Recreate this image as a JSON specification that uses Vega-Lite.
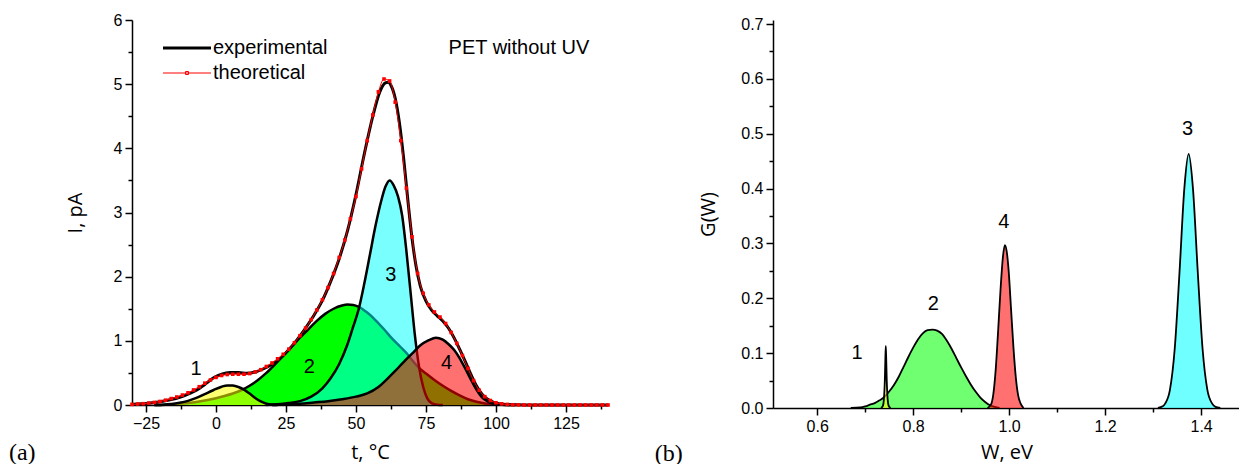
{
"$schema": "https://vega.github.io/schema/vega-lite/v6.json",
"padding": {"left": 8, "top": 12, "right": 0, "bottom": 0},
"spacing": 40,
"config": {
  "view": {"stroke": null},
  "axis": {"domainColor": "black", "domainWidth": 1.5, "tickColor": "black", "tickWidth": 1.5, "labelColor": "black", "labelFont": "Liberation Sans", "labelFontSize": 16, "labelPadding": 3, "titleFont": "Open Sans", "titleFontSize": 20, "titleFontWeight": "normal", "titleColor": "black", "grid": false, "labelOverlap": false, "labelFlush": false},
  "text": {"font": "Liberation Sans", "fontSize": 20, "color": "black"}
},
"datasets": {
  "peaksA": [
    {"peak":1,"t":-22,"I":0},{"peak":1,"t":-19,"I":0.005},{"peak":1,"t":-16,"I":0.015},{"peak":1,"t":-13,"I":0.035},{"peak":1,"t":-10,"I":0.065},{"peak":1,"t":-7,"I":0.11},{"peak":1,"t":-4,"I":0.17},{"peak":1,"t":-1,"I":0.23},{"peak":1,"t":2,"I":0.285},{"peak":1,"t":4,"I":0.305},{"peak":1,"t":6,"I":0.302},{"peak":1,"t":8,"I":0.28},{"peak":1,"t":10,"I":0.24},{"peak":1,"t":12,"I":0.178},{"peak":1,"t":14,"I":0.11},{"peak":1,"t":16,"I":0.055},{"peak":1,"t":18,"I":0.02},{"peak":1,"t":20,"I":0.005},{"peak":1,"t":22,"I":0},
    {"peak":2,"t":-22,"I":0},{"peak":2,"t":-18,"I":0.005},{"peak":2,"t":-15,"I":0.012},{"peak":2,"t":-12,"I":0.022},{"peak":2,"t":-9,"I":0.036},{"peak":2,"t":-6,"I":0.055},{"peak":2,"t":-3,"I":0.078},{"peak":2,"t":0,"I":0.105},{"peak":2,"t":3,"I":0.14},{"peak":2,"t":6,"I":0.18},{"peak":2,"t":9,"I":0.23},{"peak":2,"t":12,"I":0.3},{"peak":2,"t":15,"I":0.39},{"peak":2,"t":18,"I":0.5},{"peak":2,"t":21,"I":0.63},{"peak":2,"t":24,"I":0.77},{"peak":2,"t":27,"I":0.91},{"peak":2,"t":30,"I":1.05},{"peak":2,"t":33,"I":1.18},{"peak":2,"t":36,"I":1.31},{"peak":2,"t":39,"I":1.42},{"peak":2,"t":42,"I":1.5},{"peak":2,"t":45,"I":1.55},{"peak":2,"t":47,"I":1.565},{"peak":2,"t":49,"I":1.56},{"peak":2,"t":51,"I":1.53},{"peak":2,"t":54,"I":1.44},{"peak":2,"t":57,"I":1.32},{"peak":2,"t":60,"I":1.18},{"peak":2,"t":63,"I":1.03},{"peak":2,"t":66,"I":0.9},{"peak":2,"t":68.6,"I":0.78},{"peak":2,"t":70,"I":0.7},{"peak":2,"t":72,"I":0.6},{"peak":2,"t":75,"I":0.49},{"peak":2,"t":78,"I":0.39},{"peak":2,"t":81,"I":0.3},{"peak":2,"t":84,"I":0.22},{"peak":2,"t":87,"I":0.15},{"peak":2,"t":90,"I":0.09},{"peak":2,"t":93,"I":0.05},{"peak":2,"t":96,"I":0.025},{"peak":2,"t":99,"I":0.01},{"peak":2,"t":103,"I":0.003},{"peak":2,"t":107,"I":0},
    {"peak":3,"t":18,"I":0},{"peak":3,"t":22,"I":0.01},{"peak":3,"t":26,"I":0.03},{"peak":3,"t":30,"I":0.06},{"peak":3,"t":34,"I":0.13},{"peak":3,"t":38,"I":0.26},{"peak":3,"t":41,"I":0.42},{"peak":3,"t":44,"I":0.64},{"peak":3,"t":47,"I":0.95},{"peak":3,"t":49,"I":1.22},{"peak":3,"t":51,"I":1.5},{"peak":3,"t":53,"I":1.9},{"peak":3,"t":55,"I":2.35},{"peak":3,"t":57,"I":2.8},{"peak":3,"t":59,"I":3.18},{"peak":3,"t":60.5,"I":3.4},{"peak":3,"t":62,"I":3.5},{"peak":3,"t":63.5,"I":3.42},{"peak":3,"t":65,"I":3.25},{"peak":3,"t":66.5,"I":2.95},{"peak":3,"t":68,"I":2.4},{"peak":3,"t":69.5,"I":1.75},{"peak":3,"t":71,"I":1.1},{"peak":3,"t":72.5,"I":0.6},{"peak":3,"t":74,"I":0.28},{"peak":3,"t":75.5,"I":0.1},{"peak":3,"t":77,"I":0.03},{"peak":3,"t":79,"I":0.005},{"peak":3,"t":81,"I":0},
    {"peak":4,"t":20,"I":0},{"peak":4,"t":25,"I":0.01},{"peak":4,"t":30,"I":0.02},{"peak":4,"t":35,"I":0.04},{"peak":4,"t":40,"I":0.06},{"peak":4,"t":45,"I":0.09},{"peak":4,"t":50,"I":0.13},{"peak":4,"t":54,"I":0.18},{"peak":4,"t":58,"I":0.28},{"peak":4,"t":61,"I":0.4},{"peak":4,"t":64,"I":0.53},{"peak":4,"t":67,"I":0.67},{"peak":4,"t":70,"I":0.8},{"peak":4,"t":73,"I":0.93},{"peak":4,"t":76,"I":1.01},{"peak":4,"t":78.5,"I":1.05},{"peak":4,"t":81,"I":1.02},{"peak":4,"t":83,"I":0.95},{"peak":4,"t":85,"I":0.86},{"peak":4,"t":87,"I":0.73},{"peak":4,"t":89,"I":0.57},{"peak":4,"t":91,"I":0.4},{"peak":4,"t":93,"I":0.24},{"peak":4,"t":95,"I":0.12},{"peak":4,"t":97,"I":0.055},{"peak":4,"t":99,"I":0.02},{"peak":4,"t":102,"I":0.005},{"peak":4,"t":105,"I":0}
  ],
  "curvesA": [
    {"series":"experimental","t":-30,"I":0.01},{"series":"experimental","t":-28,"I":0.015},{"series":"experimental","t":-25,"I":0.025},{"series":"experimental","t":-22,"I":0.04},{"series":"experimental","t":-19,"I":0.06},{"series":"experimental","t":-16,"I":0.085},{"series":"experimental","t":-13,"I":0.12},{"series":"experimental","t":-10,"I":0.17},{"series":"experimental","t":-7,"I":0.23},{"series":"experimental","t":-4,"I":0.32},{"series":"experimental","t":-1,"I":0.42},{"series":"experimental","t":2,"I":0.48},{"series":"experimental","t":5,"I":0.505},{"series":"experimental","t":8,"I":0.505},{"series":"experimental","t":11,"I":0.495},{"series":"experimental","t":14,"I":0.515},{"series":"experimental","t":17,"I":0.565},{"series":"experimental","t":20,"I":0.635},{"series":"experimental","t":23,"I":0.73},{"series":"experimental","t":26,"I":0.86},{"series":"experimental","t":29,"I":1.02},{"series":"experimental","t":32,"I":1.2},{"series":"experimental","t":35,"I":1.4},{"series":"experimental","t":38,"I":1.63},{"series":"experimental","t":41,"I":1.93},{"series":"experimental","t":44,"I":2.28},{"series":"experimental","t":47,"I":2.72},{"series":"experimental","t":50,"I":3.28},{"series":"experimental","t":53,"I":3.92},{"series":"experimental","t":56,"I":4.5},{"series":"experimental","t":58.5,"I":4.88},{"series":"experimental","t":60.5,"I":5.02},{"series":"experimental","t":61.5,"I":5.03},{"series":"experimental","t":62.5,"I":4.98},{"series":"experimental","t":64,"I":4.78},{"series":"experimental","t":65.5,"I":4.4},{"series":"experimental","t":67,"I":3.85},{"series":"experimental","t":68.5,"I":3.2},{"series":"experimental","t":70,"I":2.6},{"series":"experimental","t":71.5,"I":2.15},{"series":"experimental","t":73,"I":1.85},{"series":"experimental","t":75,"I":1.62},{"series":"experimental","t":77,"I":1.48},{"series":"experimental","t":79,"I":1.39},{"series":"experimental","t":81,"I":1.31},{"series":"experimental","t":83,"I":1.2},{"series":"experimental","t":85,"I":1.05},{"series":"experimental","t":87,"I":0.87},{"series":"experimental","t":89,"I":0.68},{"series":"experimental","t":91,"I":0.48},{"series":"experimental","t":93,"I":0.3},{"series":"experimental","t":95,"I":0.17},{"series":"experimental","t":97,"I":0.09},{"series":"experimental","t":99,"I":0.045},{"series":"experimental","t":101,"I":0.02},{"series":"experimental","t":104,"I":0.008},{"series":"experimental","t":108,"I":0.002},{"series":"experimental","t":115,"I":0},{"series":"experimental","t":140,"I":0},
    {"series":"theoretical","t":-30,"I":0.01},{"series":"theoretical","t":-28,"I":0.015},{"series":"theoretical","t":-26,"I":0.02},{"series":"theoretical","t":-24,"I":0.03},{"series":"theoretical","t":-22,"I":0.04},{"series":"theoretical","t":-20,"I":0.055},{"series":"theoretical","t":-18,"I":0.075},{"series":"theoretical","t":-16,"I":0.1},{"series":"theoretical","t":-14,"I":0.125},{"series":"theoretical","t":-12,"I":0.155},{"series":"theoretical","t":-10,"I":0.19},{"series":"theoretical","t":-8,"I":0.235},{"series":"theoretical","t":-6,"I":0.285},{"series":"theoretical","t":-4,"I":0.34},{"series":"theoretical","t":-2,"I":0.39},{"series":"theoretical","t":0,"I":0.43},{"series":"theoretical","t":2,"I":0.46},{"series":"theoretical","t":4,"I":0.475},{"series":"theoretical","t":6,"I":0.48},{"series":"theoretical","t":8,"I":0.48},{"series":"theoretical","t":10,"I":0.48},{"series":"theoretical","t":12,"I":0.49},{"series":"theoretical","t":14,"I":0.515},{"series":"theoretical","t":16,"I":0.55},{"series":"theoretical","t":18,"I":0.6},{"series":"theoretical","t":20,"I":0.655},{"series":"theoretical","t":22,"I":0.72},{"series":"theoretical","t":24,"I":0.79},{"series":"theoretical","t":26,"I":0.87},{"series":"theoretical","t":28,"I":0.97},{"series":"theoretical","t":30,"I":1.08},{"series":"theoretical","t":32,"I":1.2},{"series":"theoretical","t":34,"I":1.33},{"series":"theoretical","t":36,"I":1.48},{"series":"theoretical","t":38,"I":1.64},{"series":"theoretical","t":40,"I":1.83},{"series":"theoretical","t":42,"I":2.05},{"series":"theoretical","t":44,"I":2.3},{"series":"theoretical","t":46,"I":2.57},{"series":"theoretical","t":48,"I":2.9},{"series":"theoretical","t":50,"I":3.25},{"series":"theoretical","t":52,"I":3.68},{"series":"theoretical","t":54,"I":4.12},{"series":"theoretical","t":56,"I":4.52},{"series":"theoretical","t":58,"I":4.88},{"series":"theoretical","t":60,"I":5.08},{"series":"theoretical","t":62,"I":5.05},{"series":"theoretical","t":64,"I":4.72},{"series":"theoretical","t":66,"I":4.12},{"series":"theoretical","t":68,"I":3.38},{"series":"theoretical","t":70,"I":2.62},{"series":"theoretical","t":72,"I":2.05},{"series":"theoretical","t":74,"I":1.74},{"series":"theoretical","t":76,"I":1.56},{"series":"theoretical","t":78,"I":1.45},{"series":"theoretical","t":80,"I":1.37},{"series":"theoretical","t":82,"I":1.27},{"series":"theoretical","t":84,"I":1.13},{"series":"theoretical","t":86,"I":0.96},{"series":"theoretical","t":88,"I":0.77},{"series":"theoretical","t":90,"I":0.57},{"series":"theoretical","t":92,"I":0.38},{"series":"theoretical","t":94,"I":0.23},{"series":"theoretical","t":96,"I":0.13},{"series":"theoretical","t":98,"I":0.07},{"series":"theoretical","t":100,"I":0.035},{"series":"theoretical","t":102,"I":0.018},{"series":"theoretical","t":104,"I":0.009},{"series":"theoretical","t":106,"I":0.004},{"series":"theoretical","t":108,"I":0.002},{"series":"theoretical","t":110,"I":0},{"series":"theoretical","t":112,"I":0},{"series":"theoretical","t":114,"I":0},{"series":"theoretical","t":116,"I":0},{"series":"theoretical","t":118,"I":0},{"series":"theoretical","t":120,"I":0},{"series":"theoretical","t":122,"I":0},{"series":"theoretical","t":124,"I":0},{"series":"theoretical","t":126,"I":0},{"series":"theoretical","t":128,"I":0},{"series":"theoretical","t":130,"I":0},{"series":"theoretical","t":132,"I":0},{"series":"theoretical","t":134,"I":0},{"series":"theoretical","t":136,"I":0},{"series":"theoretical","t":138,"I":0},{"series":"theoretical","t":140,"I":0}
  ],
  "labelsA": [
    {"kind":"peak","t":-7.1,"I":0.565,"text":"1"},{"kind":"peak","t":33.3,"I":0.59,"text":"2"},{"kind":"peak","t":62.4,"I":2.02,"text":"3"},{"kind":"peak","t":82.3,"I":0.66,"text":"4"},
    {"kind":"note","t":108.2,"I":5.57,"text":"PET without UV"},
    {"kind":"panel","t":-69.2,"I":-0.75,"text":"(a)"}
  ],
  "peaksB": [
    {"peak":2,"W":0.67,"G":0},{"peak":2,"W":0.69,"G":0.001},{"peak":2,"W":0.7,"G":0.003},{"peak":2,"W":0.71,"G":0.006},{"peak":2,"W":0.72,"G":0.009},{"peak":2,"W":0.73,"G":0.014},{"peak":2,"W":0.74,"G":0.02},{"peak":2,"W":0.75,"G":0.03},{"peak":2,"W":0.76,"G":0.042},{"peak":2,"W":0.77,"G":0.057},{"peak":2,"W":0.78,"G":0.075},{"peak":2,"W":0.79,"G":0.093},{"peak":2,"W":0.8,"G":0.11},{"peak":2,"W":0.81,"G":0.125},{"peak":2,"W":0.82,"G":0.136},{"peak":2,"W":0.83,"G":0.142},{"peak":2,"W":0.84,"G":0.143},{"peak":2,"W":0.85,"G":0.141},{"peak":2,"W":0.86,"G":0.135},{"peak":2,"W":0.87,"G":0.123},{"peak":2,"W":0.88,"G":0.108},{"peak":2,"W":0.89,"G":0.091},{"peak":2,"W":0.9,"G":0.074},{"peak":2,"W":0.91,"G":0.058},{"peak":2,"W":0.92,"G":0.043},{"peak":2,"W":0.93,"G":0.03},{"peak":2,"W":0.94,"G":0.019},{"peak":2,"W":0.95,"G":0.011},{"peak":2,"W":0.96,"G":0.005},{"peak":2,"W":0.97,"G":0.002},{"peak":2,"W":0.98,"G":0},
    {"peak":1,"W":0.733,"G":0},{"peak":1,"W":0.737,"G":0.004},{"peak":1,"W":0.739,"G":0.015},{"peak":1,"W":0.741,"G":0.05},{"peak":1,"W":0.742,"G":0.085},{"peak":1,"W":0.743,"G":0.113},{"peak":1,"W":0.744,"G":0.085},{"peak":1,"W":0.745,"G":0.05},{"peak":1,"W":0.747,"G":0.015},{"peak":1,"W":0.749,"G":0.004},{"peak":1,"W":0.753,"G":0},
    {"peak":4,"W":0.955,"G":0},{"peak":4,"W":0.962,"G":0.006},{"peak":4,"W":0.967,"G":0.025},{"peak":4,"W":0.972,"G":0.07},{"peak":4,"W":0.977,"G":0.14},{"peak":4,"W":0.982,"G":0.215},{"peak":4,"W":0.987,"G":0.275},{"peak":4,"W":0.991,"G":0.297},{"peak":4,"W":0.995,"G":0.285},{"peak":4,"W":0.999,"G":0.25},{"peak":4,"W":1.004,"G":0.18},{"peak":4,"W":1.009,"G":0.11},{"peak":4,"W":1.014,"G":0.055},{"peak":4,"W":1.019,"G":0.022},{"peak":4,"W":1.024,"G":0.008},{"peak":4,"W":1.03,"G":0},
    {"peak":3,"W":1.31,"G":0},{"peak":3,"W":1.32,"G":0.003},{"peak":3,"W":1.325,"G":0.008},{"peak":3,"W":1.335,"G":0.033},{"peak":3,"W":1.345,"G":0.108},{"peak":3,"W":1.355,"G":0.248},{"peak":3,"W":1.365,"G":0.4},{"peak":3,"W":1.374,"G":0.463},{"peak":3,"W":1.383,"G":0.4},{"peak":3,"W":1.393,"G":0.248},{"peak":3,"W":1.403,"G":0.108},{"peak":3,"W":1.413,"G":0.033},{"peak":3,"W":1.423,"G":0.008},{"peak":3,"W":1.43,"G":0.002},{"peak":3,"W":1.44,"G":0}
  ],
  "labelsB": [
    {"kind":"peak","W":0.683,"G":0.1,"text":"1"},{"kind":"peak","W":0.842,"G":0.19,"text":"2"},{"kind":"peak","W":0.989,"G":0.339,"text":"4"},{"kind":"peak","W":1.372,"G":0.509,"text":"3"},
    {"kind":"panel","W":0.291,"G":-0.083,"text":"(b)"}
  ]
},
"hconcat": [
  {
    "width": 476, "height": 385,
    "encoding": {
      "x": {"field": "t", "type": "quantitative", "scale": {"domain": [-30, 140], "nice": false, "zero": false},
        "axis": {"title": "t, °C", "titlePadding": 11, "values": [-25,-12.5,0,12.5,25,37.5,50,62.5,75,87.5,100,112.5,125,137.5],
          "labelExpr": "datum.value % 25 === 0 ? datum.label : ''",
          "tickSize": {"condition": {"test": "datum.value % 25 === 0", "value": 7}, "value": 4}}},
      "y": {"field": "I", "type": "quantitative", "scale": {"domain": [0, 6], "nice": false},
        "axis": {"title": "I, pA", "titlePadding": 28, "values": [0,0.5,1,1.5,2,2.5,3,3.5,4,4.5,5,5.5,6],
          "labelExpr": "datum.value % 1 === 0 ? format(datum.value, 'd') : ''",
          "tickSize": {"condition": {"test": "datum.value % 1 === 0", "value": 7}, "value": 4}}}
    },
    "layer": [
      {"data": {"name": "peaksA"}, "transform": [{"filter": "datum.peak === 2"}],
       "mark": {"type": "area", "color": "#00ff00", "fillOpacity": 1, "interpolate": "monotone", "line": {"color": "black", "strokeWidth": 2.5, "opacity": 1}}},
      {"data": {"name": "peaksA"}, "transform": [{"filter": "datum.peak === 1"}],
       "mark": {"type": "area", "color": "#ffff00", "fillOpacity": 0.55, "interpolate": "monotone", "line": {"color": "black", "strokeWidth": 2.5, "opacity": 1}}},
      {"data": {"name": "peaksA"}, "transform": [{"filter": "datum.peak === 3"}],
       "mark": {"type": "area", "color": "#00ffff", "fillOpacity": 0.52, "interpolate": "monotone", "line": {"color": "black", "strokeWidth": 2.5, "opacity": 1}}},
      {"data": {"name": "peaksA"}, "transform": [{"filter": "datum.peak === 4"}],
       "mark": {"type": "area", "color": "#ff0000", "fillOpacity": 0.56, "interpolate": "monotone", "line": {"color": "black", "strokeWidth": 2.5, "opacity": 1}}},
      {"data": {"name": "curvesA"},
       "mark": {"type": "line", "interpolate": "monotone"},
       "encoding": {
         "color": {"field": "series", "type": "nominal", "scale": {"domain": ["experimental", "theoretical"], "range": ["black", "#ff0000"]},
           "legend": {"orient": "none", "legendX": 56, "legendY": 18, "title": null, "padding": 0, "labelFont": "Liberation Sans", "labelFontSize": 20, "labelColor": "black", "labelOffset": 5, "rowPadding": 5, "symbolType": "M-35,0H13", "symbolSize": 4,
             "encode": {"symbols": {"update": {"shape": {"signal": "datum.value === 'theoretical' ? 'M-35,0H13M-12.5,-1.5H-9.5V1.5H-12.5Z' : 'M-35,0H13'"}, "strokeWidth": {"signal": "datum.value === 'theoretical' ? 1 : 3.5"}}}}}},
         "strokeWidth": {"field": "series", "type": "nominal", "scale": {"domain": ["experimental", "theoretical"], "range": [3, 1]}, "legend": null}
       }},
      {"data": {"name": "curvesA"}, "transform": [{"filter": "datum.series === 'theoretical'"}],
       "mark": {"type": "square", "color": "#ff0000", "size": 13, "opacity": 1, "filled": true}},
      {"data": {"name": "labelsA"}, "transform": [{"filter": "datum.kind !== 'panel'"}],
       "mark": {"type": "text", "font": "Liberation Sans", "fontSize": 20, "align": "center", "baseline": "middle", "color": "black"},
       "encoding": {"text": {"field": "text"}}},
      {"data": {"name": "labelsA"}, "transform": [{"filter": "datum.kind === 'panel'"}],
       "mark": {"type": "text", "font": "Liberation Serif", "fontSize": 24, "align": "center", "baseline": "middle", "color": "black"},
       "encoding": {"text": {"field": "text"}}}
    ]
  },
  {
    "width": 467, "height": 388,
    "encoding": {
      "x": {"field": "W", "type": "quantitative", "scale": {"domain": [0.508, 1.481], "nice": false, "zero": false},
        "axis": {"title": "W, eV", "titlePadding": 8, "values": [0.6,0.7,0.8,0.9,1.0,1.1,1.2,1.3,1.4],
          "labelExpr": "round(datum.value * 10) % 2 === 0 ? format(datum.value, '.1f') : ''",
          "tickSize": {"condition": {"test": "round(datum.value * 10) % 2 === 0", "value": 7}, "value": 4}}},
      "y": {"field": "G", "type": "quantitative", "scale": {"domain": [0, 0.7073], "nice": false},
        "axis": {"title": "G(W)", "titlePadding": 22, "values": [0,0.05,0.1,0.15,0.2,0.25,0.3,0.35,0.4,0.45,0.5,0.55,0.6,0.65,0.7],
          "labelExpr": "round(datum.value * 100) % 10 === 0 ? format(datum.value, '.1f') : ''",
          "tickSize": {"condition": {"test": "round(datum.value * 100) % 10 === 0", "value": 7}, "value": 4}}}
    },
    "layer": [
      {"data": {"name": "peaksB"}, "transform": [{"filter": "datum.peak === 2"}],
       "mark": {"type": "area", "color": "#00ff00", "fillOpacity": 0.56, "interpolate": "monotone", "line": {"color": "black", "strokeWidth": 1.8, "opacity": 1}}},
      {"data": {"name": "peaksB"}, "transform": [{"filter": "datum.peak === 1"}],
       "mark": {"type": "area", "color": "#ffff00", "fillOpacity": 0.56, "interpolate": "monotone", "line": {"color": "black", "strokeWidth": 1.8, "opacity": 1}}},
      {"data": {"name": "peaksB"}, "transform": [{"filter": "datum.peak === 4"}],
       "mark": {"type": "area", "color": "#ff0000", "fillOpacity": 0.56, "interpolate": "monotone", "line": {"color": "black", "strokeWidth": 1.8, "opacity": 1}}},
      {"data": {"name": "peaksB"}, "transform": [{"filter": "datum.peak === 3"}],
       "mark": {"type": "area", "color": "#00ffff", "fillOpacity": 0.56, "interpolate": "monotone", "line": {"color": "black", "strokeWidth": 1.8, "opacity": 1}}},
      {"data": {"name": "labelsB"}, "transform": [{"filter": "datum.kind === 'peak'"}],
       "mark": {"type": "text", "font": "Liberation Sans", "fontSize": 20, "align": "center", "baseline": "middle", "color": "black"},
       "encoding": {"text": {"field": "text"}}},
      {"data": {"name": "labelsB"}, "transform": [{"filter": "datum.kind === 'panel'"}],
       "mark": {"type": "text", "font": "Liberation Serif", "fontSize": 24, "align": "center", "baseline": "middle", "color": "black"},
       "encoding": {"text": {"field": "text"}}}
    ]
  }
]
}
